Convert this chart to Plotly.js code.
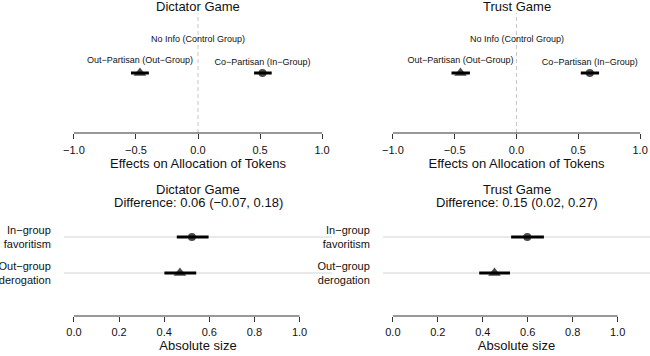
<!DOCTYPE html>
<html>
<head>
<meta charset="utf-8">
<script src="https://cdn.plot.ly/plotly-3.0.1.min.js"></script>
<style>html,body{margin:0;padding:0;background:#fff;}#chart{width:650px;height:356px;}</style>
</head>
<body>
<div id="chart"></div>
<script>
// ---- data ----
const effectGroups = ['Out−Partisan (Out−Group)', 'Co−Partisan (In−Group)'];
const controlLabel = 'No Info (Control Group)';

const dictatorEst = [-0.468, 0.520];
const dictatorLo  = [-0.540, 0.452];
const dictatorHi  = [-0.396, 0.594];

const trustEst = [-0.453, 0.593];
const trustLo  = [-0.526, 0.520];
const trustHi  = [-0.377, 0.668];

const sizeCategories = ['In−group<br>favoritism', 'Out−group<br>derogation'];
const dictatorAbsEst = [0.523, 0.470];
const dictatorAbsLo  = [0.456, 0.401];
const dictatorAbsHi  = [0.597, 0.542];

const trustAbsEst = [0.598, 0.452];
const trustAbsLo  = [0.526, 0.384];
const trustAbsHi  = [0.672, 0.521];

const topTitles = ['Dictator Game', 'Trust Game'];
const bottomTitles = ['Dictator Game', 'Trust Game'];
const diffLabels = ['Difference: 0.06 (−0.07, 0.18)', 'Difference: 0.15 (0.02, 0.27)'];
const topTicks = [-1.0, -0.5, 0.0, 0.5, 1.0];
const bottomTicks = [0.0, 0.2, 0.4, 0.6, 0.8, 1.0];
const topAxisTitle = 'Effects on Allocation of Tokens';
const bottomAxisTitle = 'Absolute size';

// ---- styling ----
const FONT = 'Liberation Sans, Arial, Helvetica, sans-serif';
const symbolsTop = ['triangle-up', 'circle'];
const symbolsBottom = ['circle', 'triangle-up'];
const fmt = v => v.toFixed(1).replace('-', '−');

function sub(a, b) { return a.map((v, i) => v - b[i]); }

function effectTrace(est, lo, hi, xa, ya) {
  return {
    type: 'scatter', mode: 'markers+text', xaxis: xa, yaxis: ya,
    x: est, y: est.map(() => 0.5),
    text: effectGroups, textposition: 'top center',
    textfont: {family: FONT, size: 9, color: '#111'},
    marker: {symbol: symbolsTop, size: [11, 8], color: '#000', line: {width: 0}},
    error_x: {type: 'data', symmetric: false, array: sub(hi, est), arrayminus: sub(est, lo),
              thickness: 3, width: 0, color: '#000'},
    showlegend: false, hoverinfo: 'none', cliponaxis: false
  };
}
function sizeTrace(est, lo, hi, xa, ya) {
  return {
    type: 'scatter', mode: 'markers', xaxis: xa, yaxis: ya,
    x: est, y: est.map((_, i) => sizeCategories.length - i),
    marker: {symbol: symbolsBottom, size: [8, 11], color: '#000', line: {width: 0}},
    error_x: {type: 'data', symmetric: false, array: sub(hi, est), arrayminus: sub(est, lo),
              thickness: 3, width: 0, color: '#000'},
    showlegend: false, hoverinfo: 'none', cliponaxis: false
  };
}

const data = [
  effectTrace(dictatorEst, dictatorLo, dictatorHi, 'x', 'y'),
  effectTrace(trustEst, trustLo, trustHi, 'x2', 'y2'),
  sizeTrace(dictatorAbsEst, dictatorAbsLo, dictatorAbsHi, 'x3', 'y3'),
  sizeTrace(trustAbsEst, trustAbsLo, trustAbsHi, 'x4', 'y4')
];

const leftDom = [64/650, 332/650];
const rightDom = [383/650, 1];
const topDom = [1 - 133/356, 1 - 13/356];
const botDom = [1 - 316/356, 1 - 216/356];

function xAxis(dom, anchor, range, ticks, title, standoff) {
  return {
    domain: dom, anchor: anchor, range: range, tickvals: ticks, ticktext: ticks.map(fmt),
    ticks: 'outside', ticklen: 5, tickwidth: 1, tickcolor: '#333', ticklabelstandoff: standoff,
    showline: false, showgrid: false, zeroline: false, fixedrange: true,
    tickfont: {family: FONT, size: 11, color: '#111'},
    title: {text: title, font: {family: FONT, size: 13, color: '#111'}, standoff: 0}
  };
}
function topY(dom, anchor) {
  return {domain: dom, anchor: anchor, range: [0, 1], visible: false, fixedrange: true};
}
function botY(dom, anchor) {
  return {
    domain: dom, anchor: anchor, range: [-0.194, 2.583], fixedrange: true,
    tickvals: sizeCategories.map((_, i) => sizeCategories.length - i),
    ticktext: sizeCategories, ticks: 'outside', ticklen: 10, tickcolor: 'rgba(0,0,0,0)',
    showline: false, showgrid: false, zeroline: false,
    tickfont: {family: FONT, size: 11, color: '#111'}
  };
}

const shapes = [];
const annotations = [];
[['x', 'y'], ['x2', 'y2']].forEach(([xa, ya], k) => {
  shapes.push({type: 'line', xref: xa, yref: ya + ' domain', x0: topTicks[0], x1: topTicks[topTicks.length - 1],
               y0: 0, y1: 0, line: {color: '#333', width: 1}});
  shapes.push({type: 'line', xref: xa, yref: ya + ' domain', x0: 0, x1: 0, y0: 0, y1: 1,
               line: {color: '#c8c8c8', width: 1, dash: '4px,3px'}, layer: 'below'});
  annotations.push({xref: xa + ' domain', yref: 'paper', x: 0.5, y: 1 - 7/356, text: topTitles[k],
                    showarrow: false, yanchor: 'middle', font: {family: FONT, size: 13, color: '#111'}});
  annotations.push({xref: xa, yref: ya, x: 0, y: 0.781, text: controlLabel, showarrow: false,
                    yanchor: 'middle', font: {family: FONT, size: 9, color: '#111'}});
});
[['x3', 'y3'], ['x4', 'y4']].forEach(([xa, ya], k) => {
  shapes.push({type: 'line', xref: xa, yref: ya + ' domain', x0: bottomTicks[0], x1: bottomTicks[bottomTicks.length - 1],
               y0: 0, y1: 0, line: {color: '#333', width: 1}});
  sizeCategories.forEach((_, i) => {
    shapes.push({type: 'line', xref: xa + ' domain', yref: ya, x0: 0, x1: 1,
                 y0: sizeCategories.length - i, y1: sizeCategories.length - i,
                 line: {color: '#d4d4d4', width: 1}, layer: 'below'});
  });
  annotations.push({xref: xa + ' domain', yref: 'paper', x: 0.5, y: 1 - 189.5/356, text: bottomTitles[k],
                    showarrow: false, yanchor: 'middle', font: {family: FONT, size: 13, color: '#111'}});
  annotations.push({xref: xa + ' domain', yref: 'paper', x: 0.5, y: 1 - 202.5/356, text: diffLabels[k],
                    showarrow: false, yanchor: 'middle', font: {family: FONT, size: 13, color: '#111'}});
});

const layout = {
  width: 650, height: 356, margin: {l: 0, r: 0, t: 0, b: 0},
  paper_bgcolor: '#fff', plot_bgcolor: '#fff', showlegend: false,
  font: {family: FONT, color: '#111'},
  xaxis: xAxis(leftDom, 'y', [-1.08, 1.08], topTicks, topAxisTitle, 2), yaxis: topY(topDom, 'x'),
  xaxis2: xAxis(rightDom, 'y2', [-1.08, 1.08], topTicks, topAxisTitle, 2), yaxis2: topY(topDom, 'x2'),
  xaxis3: xAxis(leftDom, 'y3', [-0.044, 1.144], bottomTicks, bottomAxisTitle, 1), yaxis3: botY(botDom, 'x3'),
  xaxis4: xAxis(rightDom, 'y4', [-0.044, 1.144], bottomTicks, bottomAxisTitle, 1), yaxis4: botY(botDom, 'x4'),
  shapes: shapes, annotations: annotations
};

Plotly.newPlot('chart', data, layout, {staticPlot: true, displayModeBar: false});
</script>
</body>
</html>
